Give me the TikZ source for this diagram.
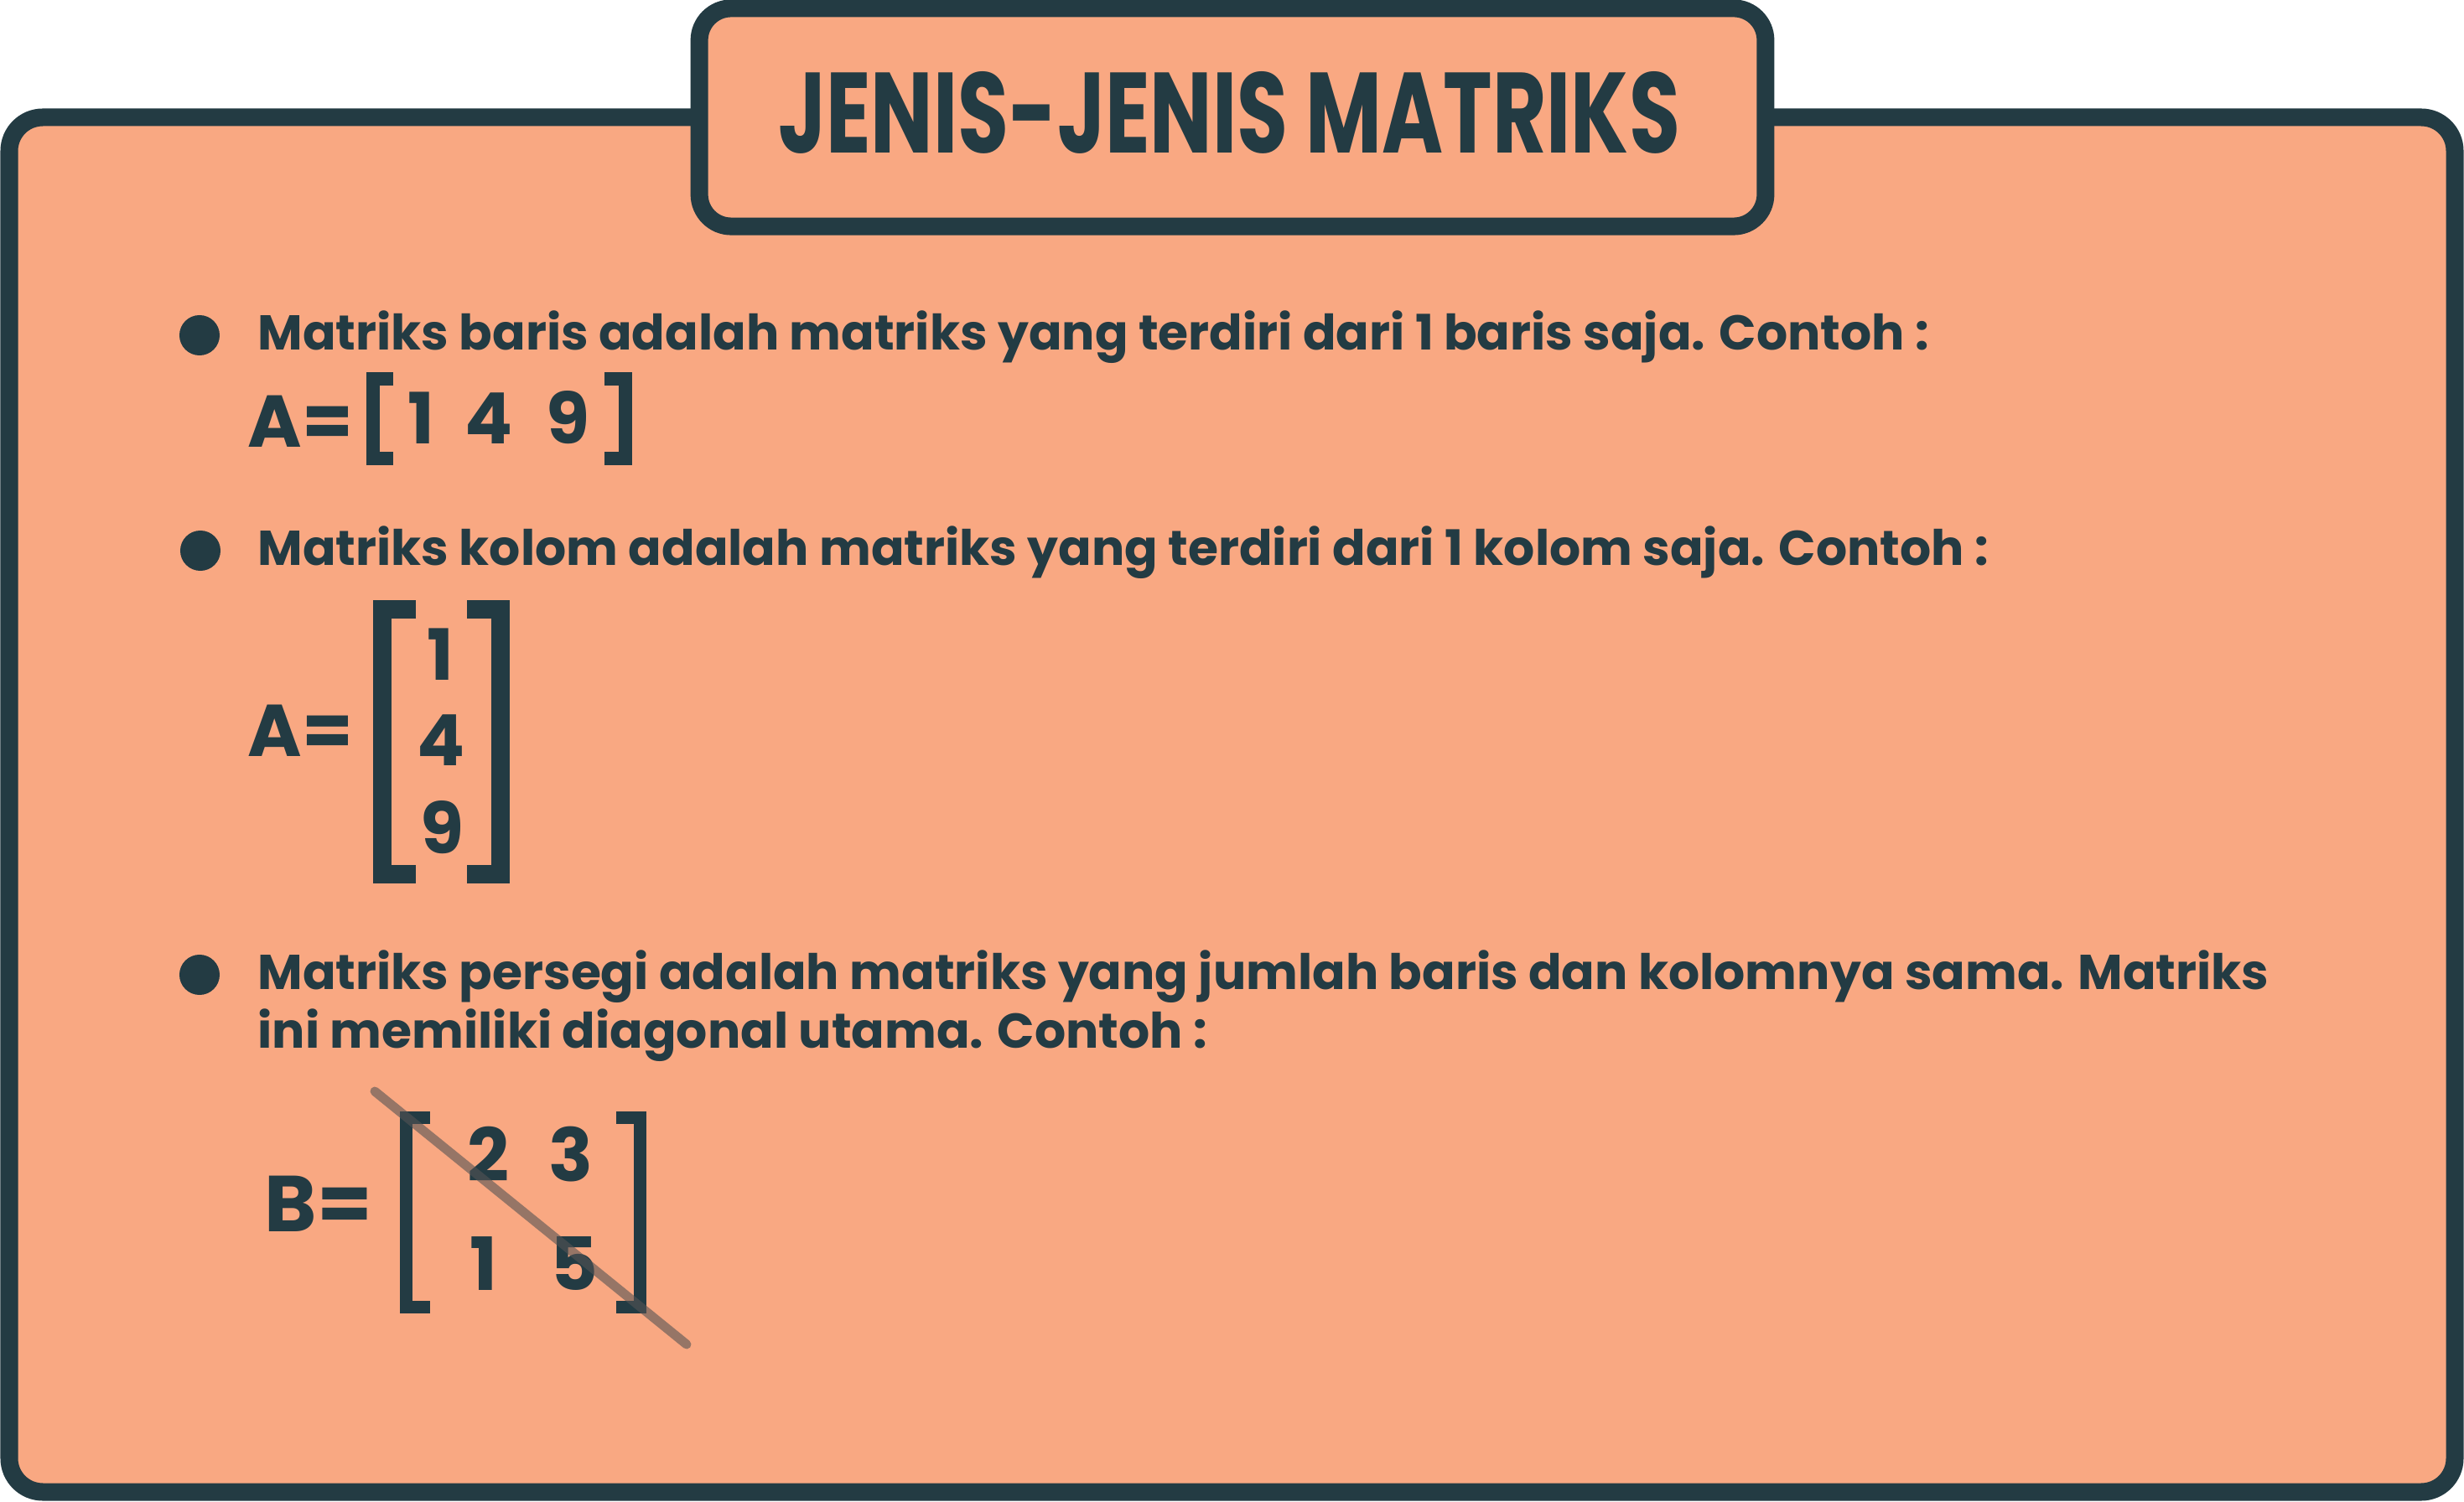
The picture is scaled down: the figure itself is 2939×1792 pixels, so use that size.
\documentclass[tikz,border=0pt]{standalone}
\usepackage{fontspec}
\setmainfont{Poppins}
\usetikzlibrary{positioning,calc}

\definecolor{peach}{HTML}{F9A882}
\definecolor{ink}{HTML}{233B43}
\definecolor{slash}{HTML}{545354}

\begin{document}
\begin{tikzpicture}[
    x=0.01cm, y=-0.01cm,
    frame/.style={draw=ink, fill=peach, line width=0.21cm, rounded corners=0.4cm},
    titlebox/.style={rectangle, draw=ink, fill=peach, line width=0.21cm, rounded corners=0.38cm, minimum width=12.71cm, minimum height=2.6cm, inner sep=0pt},
    dot/.style={circle, fill=ink, minimum size=0.48cm, inner sep=0pt},
    txt/.style={text=ink, inner sep=0pt, anchor=base west, font=\fontsize{16.6pt}{20pt}\selectfont\bfseries},
    lhs/.style={text=ink, inner sep=0pt, anchor=base west, font=\fontsize{24.9pt}{28pt}\selectfont\bfseries},
    num/.style={text=ink, inner sep=0pt, anchor=base, font=\fontsize{24pt}{28pt}\selectfont\bfseries},
    brk/.style={draw=ink, line cap=butt, line join=miter},
    diag/.style={draw=slash, opacity=0.6, line width=0.11cm, line cap=round}
]
\useasboundingbox (0,0) rectangle (2939,1792);

% Frame and title
\draw [frame] (11,140) rectangle (2928,1780);
\node [titlebox] (head) at (1470,140) {};
\node [text=ink, inner sep=0pt] (title) at (1466,134) {\resizebox{10.75cm}{0.97cm}{\bfseries JENIS-JENIS MATRIKS}};

% Matriks baris
\node [dot] (b1) at (238,400) {};
\node [txt] (t1) at (307,418) {Matriks baris adalah matriks yang terdiri dari 1 baris saja. Contoh :};
\node [lhs] (a1) at (295,534) {A=};
\node [num] (r1) at (502,530) {1};
\node [num] (r2) at (583,530) {4};
\node [num] (r3) at (677,530) {9};
\draw [brk, line width=0.16cm] (469,452) -- (445,452) -- (445,547) -- (469,547);
\draw [brk, line width=0.16cm] (721,452) -- (746,452) -- (746,547) -- (721,547);

% Matriks kolom
\node [dot] (b2) at (239,657) {};
\node [txt] (t2) at (307,675) {Matriks kolom adalah matriks yang terdiri dari 1 kolom saja. Contoh :};
\node [lhs] (a2) at (295,903) {A=};
\node [num] (c1) at (525,812) {1};
\node [num] (c2) at (526,914) {4};
\node [num] (c3) at (527,1019) {9};
\draw [brk, line width=0.22cm] (496,727) -- (456,727) -- (456,1043) -- (496,1043);
\draw [brk, line width=0.22cm] (557,727) -- (597,727) -- (597,1043) -- (557,1043);

% Matriks persegi
\node [dot] (b3) at (238,1163) {};
\node [txt] (t3) at (307,1180) {Matriks persegi adalah matriks yang jumlah baris dan kolomnya sama. Matriks};
\node [txt] (t4) at ([yshift=-0.7cm]t3.base west) {ini memiliki diagonal utama. Contoh :};
\node [lhs, font=\fontsize{26.9pt}{30pt}\selectfont\bfseries] (bb) at (315,1469) {B=};
\node [num, font=\fontsize{24.9pt}{28pt}\selectfont\bfseries] (s11) at (582,1409) {2};
\node [num, font=\fontsize{24.9pt}{28pt}\selectfont\bfseries] (s12) at (681,1409) {3};
\node [num, font=\fontsize{24.9pt}{28pt}\selectfont\bfseries] (s21) at (577,1539) {1};
\node [num, font=\fontsize{24.9pt}{28pt}\selectfont\bfseries] (s22) at (685,1539) {5};
\draw [brk, line width=0.15cm] (513,1333.5) -- (484.5,1333.5) -- (484.5,1559.5) -- (513,1559.5);
\draw [brk, line width=0.15cm] (735,1333.5) -- (763.5,1333.5) -- (763.5,1559.5) -- (735,1559.5);

% Diagonal utama
\coordinate (dg1) at (447,1302);
\coordinate (dg2) at (819,1604);
\draw [diag] (dg1) -- (dg2);

\end{tikzpicture}
\end{document}
